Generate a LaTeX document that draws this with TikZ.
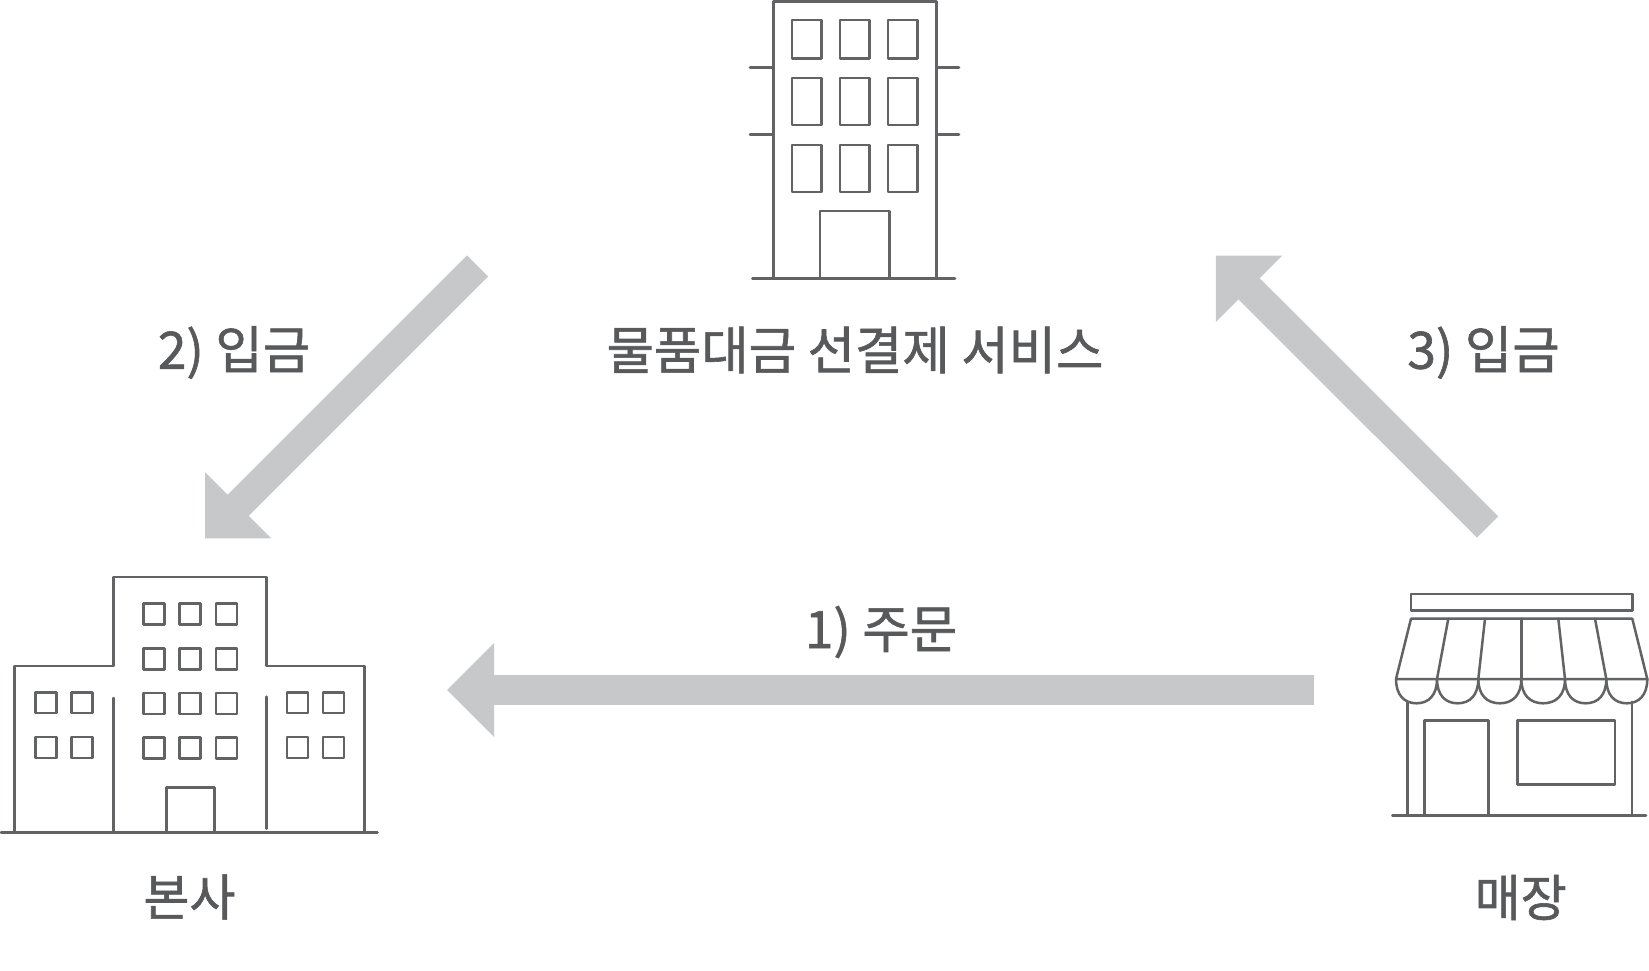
\documentclass[tikz,border=0pt]{standalone}
\usepackage{fontspec}
\setmainfont{Noto Sans CJK KR}[FakeBold=1.2]
\usetikzlibrary{arrows.meta}
\definecolor{inkgray}{HTML}{58595B}
\definecolor{linegray}{HTML}{626365}
\definecolor{arrowgray}{HTML}{C7C8CA}
\tikzset{
  icon/.style={draw=linegray,line width=2.5pt,line join=round,line cap=round},
  label/.style={text=inkgray,inner sep=0pt,font=\fontsize{51.5}{60}\selectfont},
  place/.style={label,font=\fontsize{50}{60}\selectfont},
  flow/.style={draw=arrowgray,line width=30pt,-{Triangle[length=47pt,width=91pt,color=arrowgray]}},
}
\newcommand{\win}[4]{\draw[icon] (#1,#3) rectangle (#2,#4);}
\begin{document}
\begin{tikzpicture}[x=1pt,y=-1pt]
\useasboundingbox (0,0) rectangle (1649,971);
\fill[white] (0,0) rectangle (1649,971);
% top building
\draw[icon] (773.3,278.3) -- (773.3,1.7) -- (936.3,1.7) -- (936.3,278.3);
\draw[icon] (752.3,278.3) -- (955,278.3);
\draw[icon] (750,67.3) -- (773.3,67.3) (936.3,67.3) -- (959,67.3);
\draw[icon] (750,134.7) -- (773.3,134.7) (936.3,134.7) -- (959,134.7);
\foreach \a/\b in {792/821.3,840/869.3,888/917.7}{
  \foreach \c/\d in {20/58.3,78/125,145/192}{ \win{\a}{\b}{\c}{\d} }
}
\draw[icon] (820,278.3) -- (820,211) -- (889.3,211) -- (889.3,278.3);
% head office
\draw[icon] (14.5,832.7) -- (14.5,666) -- (113.3,666) -- (113.3,576.8) -- (266.3,576.8) -- (266.3,666) -- (364.7,666) -- (364.7,832.7);
\draw[icon] (1,832.7) -- (377.5,832.7);
\draw[icon] (113.3,698) -- (113.3,832.7);
\draw[icon] (266.3,696.7) -- (266.3,828.7);
\foreach \a/\b in {143.3/164.3,179.7/200.7,216/237}{
  \foreach \c/\d in {603.7/624.7,648.3/669.3,693/714,737.7/758.7}{ \win{\a}{\b}{\c}{\d} }
}
\foreach \a/\b in {35.3/56.3,71.3/92.3,287/308,323/344}{
  \foreach \c/\d in {692.3/713,737/758}{ \win{\a}{\b}{\c}{\d} }
}
\draw[icon] (166.3,832.7) -- (166.3,787.7) -- (214.3,787.7) -- (214.3,832.7);
% shop
\draw[icon] (1411,594) rectangle (1632.3,610.3);
\draw[icon] (1396,679) -- (1411,618.7) -- (1632.3,618.7) -- (1647.3,679) -- cycle;
\foreach \t/\b in {1448.3/1437,1485/1478.3,1521.3/1521.3,1558.3/1565,1595/1606.3}{
  \draw[icon] (\t,618.7) -- (\b,679);
}
\foreach \l/\r in {1396/1437,1437/1478.3,1478.3/1521.3,1521.3/1565,1565/1606.3,1606.3/1647.3}{
  \draw[icon] (\l,679) .. controls (\l,695) and ({\l+(\r-\l)*0.2},703.3) .. ({(\l+\r)/2},703.3)
     .. controls ({\r-(\r-\l)*0.2},703.3) and (\r,695) .. (\r,679);
}
\draw[icon] (1407.3,701.7) -- (1407.3,815.3) (1632,701.7) -- (1632,815.3);
\draw[icon] (1392.3,815.3) -- (1646,815.3);
\draw[icon] (1424.7,815.3) -- (1424.7,720.7) -- (1488.7,720.7) -- (1488.7,815.3);
\draw[icon] (1517.3,720.7) rectangle (1615,784.3);
% labels
\node[label] (svc) at (855,350) {물품대금 선결제 서비스};
\node[place] (hq) at (189.5,897) {본사};
\node[place] (shop) at (1520.7,897.5) {매장};
\node[label] (l1) at (881,632) {1) 주문};
\node[label] (l2) at (234,352.5) {2) 입금};
\node[label] (l3) at (1483.5,352.5) {3) 입금};
% arrows
\coordinate (a1s) at (1313.6,690);
\coordinate (a1e) at (447,690);
\coordinate (a2s) at (477.5,266);
\coordinate (a2e) at (205,538.5);
\coordinate (a3s) at (1487.6,527);
\coordinate (a3e) at (1215.8,255.6);
\draw[flow] (a1s) -- (a1e);
\draw[flow] (a2s) -- (a2e);
\draw[flow] (a3s) -- (a3e);
\end{tikzpicture}
\end{document}
